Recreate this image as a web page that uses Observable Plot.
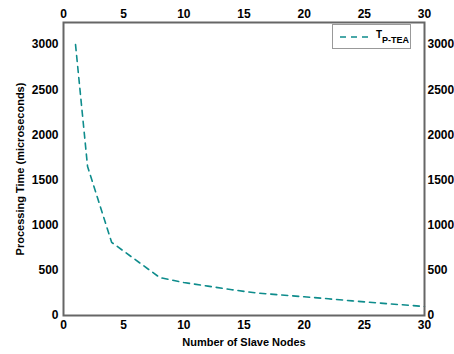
<!DOCTYPE html>
<html>
<head>
<meta charset="utf-8">
<script src="https://cdn.jsdelivr.net/npm/d3@7"></script>
<script src="https://cdn.jsdelivr.net/npm/@observablehq/plot@0.6"></script>
<style>
  html, body { margin: 0; padding: 0; background: #fff; }
  #wrap { position: relative; width: 454px; height: 354px; }
  #legend {
    position: absolute; left: 332px; top: 24px; width: 79px; height: 25px;
    border: 1px solid #999; background: #fff; box-sizing: border-box; white-space: nowrap;
    font-family: "Liberation Sans", Arial, sans-serif; font-weight: bold; color: #000;
  }
  #legend svg { position: absolute; left: 7px; top: 10px; }
  #legend .lab { position: absolute; left: 43px; top: 5px; font-size: 10px; line-height: 10px; }
  #legend .lab sub { font-size: 9px; vertical-align: -5px; line-height: 9px; }
</style>
</head>
<body>
<div id="wrap"></div>
<script>
const nodes = [1, 2, 4, 8, 10, 12, 14, 16, 18, 20, 22, 24, 26, 28, 30];
const times = [3000, 1650, 810, 420, 365, 325, 285, 250, 228, 207, 185, 162, 140, 120, 100];
const xTicks = [0, 5, 10, 15, 20, 25, 30];
const yTicks = [0, 500, 1000, 1500, 2000, 2500, 3000];
const xLabel = "Number of Slave Nodes";
const yLabel = "Processing Time (microseconds)";
const seriesName = "T";
const seriesSub = "P-TEA";
const lineColor = "#0e8c8c";

const data = nodes.map((n, i) => ({n, t: times[i]}));
const fmt = d => String(d);

const chart = Plot.plot({
  width: 454,
  height: 354,
  marginTop: 22,
  marginBottom: 39,
  marginLeft: 63,
  marginRight: 30,
  style: {fontFamily: "'Liberation Sans', Arial, sans-serif", fontSize: "12px", fontWeight: "bold", color: "#000", background: "#fff"},
  x: {domain: [0, 30]},
  y: {domain: [0, 3245]},
  marks: [
    Plot.axisX(xTicks, {anchor: "bottom", tickSize: 0, tickPadding: 5, label: null, fontSize: 12, tickFormat: fmt}),
    Plot.axisX(xTicks, {anchor: "top", tickSize: 0, tickPadding: 5, label: null, fontSize: 12, tickFormat: fmt}),
    Plot.axisY(yTicks, {anchor: "left", tickSize: 0, tickPadding: 5, label: null, fontSize: 12, tickFormat: fmt}),
    Plot.axisY(yTicks, {anchor: "right", tickSize: 0, tickPadding: 3, label: null, fontSize: 12, tickFormat: fmt}),
    Plot.line(data, {x: "n", y: "t", stroke: lineColor, strokeWidth: 1.6, strokeDasharray: "6,5"}),
    Plot.frame({stroke: "#666", strokeWidth: 2}),
    Plot.text([xLabel], {frameAnchor: "bottom", dy: 27, lineAnchor: "middle", fontSize: 11, fontWeight: "bold", text: d => d}),
    Plot.text([yLabel], {frameAnchor: "left", textAnchor: "middle", dx: -43, rotate: -90, fontSize: 11, fontWeight: "bold", text: d => d})
  ]
});
const wrap = document.getElementById("wrap");
wrap.appendChild(chart);

const legend = document.createElement("div");
legend.id = "legend";
legend.innerHTML = `<svg width="30" height="4"><line x1="0" y1="2" x2="30" y2="2" stroke="${lineColor}" stroke-width="1.6" stroke-dasharray="6,5"/></svg><span class="lab">${seriesName}<sub>${seriesSub}</sub></span>`;
wrap.appendChild(legend);
</script>
</body>
</html>
